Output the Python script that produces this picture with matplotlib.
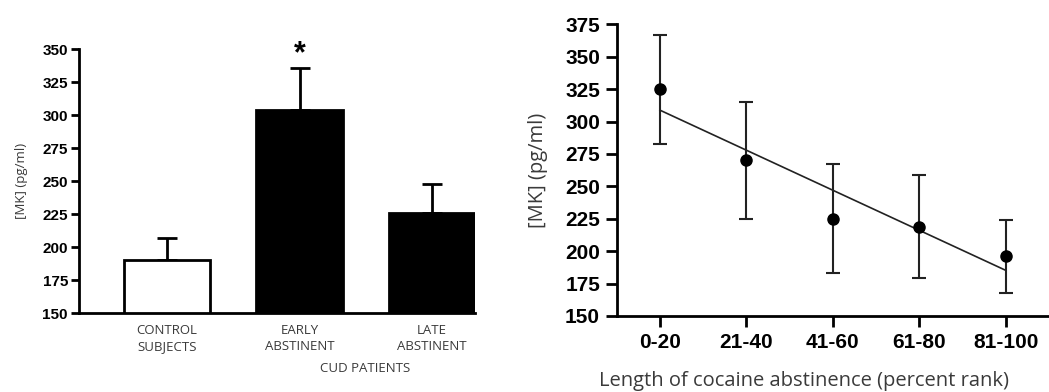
import numpy as np
import matplotlib.pyplot as plt

# Left panel: MK levels by group
groups = ['CONTROL\nSUBJECTS', 'EARLY\nABSTINENT', 'LATE\nABSTINENT']
group_means = [190, 304, 226]
group_sem = [17, 32, 22]
group_colors = ['white', 'black', 'black']

# Right panel: MK vs length of abstinence
ranks = ['0-20', '21-40', '41-60', '61-80', '81-100']
rank_means = [325, 270, 225, 219, 196]
rank_err = [42, 45, 42, 40, 28]

label_font = 'Open Sans'
tick_font = 'Liberation Sans'
text_col = '#3a3a3a'

fig = plt.figure(figsize=(10.49, 3.92), dpi=100)

# ---- left panel ----
ax1 = fig.add_axes([0.0753, 0.2008, 0.3775, 0.674])
x1 = np.arange(len(groups))
ax1.bar(x1, group_means, width=0.65, bottom=0, color=group_colors,
        edgecolor='black', linewidth=2, zorder=2)
ax1.errorbar(x1, group_means, yerr=[np.zeros(3), group_sem], fmt='none',
             ecolor='black', elinewidth=2, capsize=7, capthick=2, zorder=1)
ax1.text(1, 346, '*', ha='center', va='center', fontsize=22,
         fontweight='bold', family=tick_font)
ax1.set_ylim(150, 350)
ax1.set_xlim(-0.665, 2.325)
ax1.set_yticks(np.arange(150, 351, 25))
ax1.set_xticks(x1)
ax1.set_xticklabels(groups, family=label_font, fontsize=9.5, color=text_col,
                    linespacing=1.3)
ax1.tick_params(axis='x', length=0, pad=8)
ax1.tick_params(axis='y', length=6, width=2, pad=2)
for lab in ax1.get_yticklabels():
    lab.set_family(tick_font)
    lab.set_fontweight('bold')
    lab.set_fontsize(11)
ax1.spines['top'].set_visible(False)
ax1.spines['right'].set_visible(False)
ax1.spines['left'].set_linewidth(2)
ax1.spines['bottom'].set_linewidth(2)
ax1.set_ylabel('[MK] (pg/ml)', family=label_font, fontsize=9.5,
               color=text_col, labelpad=10)
fig.text(365 / 1049, 1 - 369 / 392, 'CUD PATIENTS', ha='center', va='center',
         family=label_font, fontsize=9.5, color=text_col)

# ---- right panel ----
ax2 = fig.add_axes([0.5879, 0.1939, 0.4121, 0.744])
x2 = np.arange(len(ranks))
ax2.errorbar(x2, rank_means, yerr=rank_err, fmt='o', color='black',
             markersize=8, ecolor='#222222', elinewidth=1.5, capsize=5,
             capthick=1.5, zorder=3)
slope, intercept = np.polyfit(x2, rank_means, 1)
ax2.plot(x2, slope * x2 + intercept, color='#222222', linewidth=1.2, zorder=2)
ax2.set_ylim(150, 375)
ax2.set_xlim(-0.5, 4.5)
ax2.set_yticks(np.arange(150, 376, 25))
ax2.set_xticks(x2)
ax2.set_xticklabels(ranks)
ax2.tick_params(axis='both', length=8, width=2, pad=4)
for lab in ax2.get_xticklabels() + ax2.get_yticklabels():
    lab.set_family(tick_font)
    lab.set_fontweight('bold')
    lab.set_fontsize(15)
ax2.spines['top'].set_visible(False)
ax2.spines['right'].set_visible(False)
ax2.spines['left'].set_linewidth(2)
ax2.spines['bottom'].set_linewidth(2)
ax2.set_ylabel('[MK] (pg/ml)', family=label_font, fontsize=14.5,
               color=text_col, labelpad=12)
ax2.set_xlabel('Length of cocaine abstinence (percent rank)', family=label_font,
               fontsize=14.5, color=text_col)
ax2.xaxis.set_label_coords(0.433, -0.19)

fig.savefig('out.png', dpi=100)
